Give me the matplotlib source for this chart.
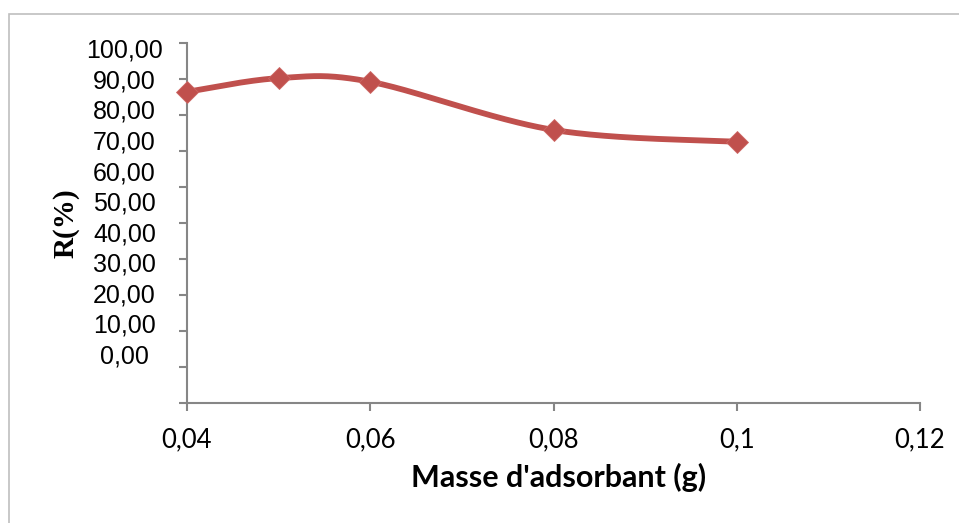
import numpy as np
import matplotlib
matplotlib.use('Agg')
import matplotlib.pyplot as plt
from matplotlib.patches import Rectangle

# adsorbent mass (g) vs removal yield R (%)
masse = [0.04, 0.05, 0.06, 0.08, 0.10]
rendement = [86.5, 90.3, 89.3, 75.9, 72.6]

xticks = [0.04, 0.06, 0.08, 0.10, 0.12]
xtick_labels = ['0,04', '0,06', '0,08', '0,1', '0,12']
ytick_values = [100, 90, 80, 70, 60, 50, 40, 30, 20, 10, 0]
ytick_labels = ['100,00', '90,00', '80,00', '70,00', '60,00', '50,00',
                '40,00', '30,00', '20,00', '10,00', '0,00']

RED = '#C0504D'
AXIS = '#868686'

W, H = 959, 523
fig = plt.figure(figsize=(W / 100, H / 100), dpi=100)

# frame around the chart area (only top and left edges fall inside the image)
fig.patches.append(Rectangle((9 / W, -1), 2, 2 - 14 / H, transform=fig.transFigure,
                             fill=False, edgecolor='#BFBFBF', linewidth=1.2))

x0, x1, y0, y1 = 187, 920, 43.3, 402.7
ax = fig.add_axes([x0 / W, 1 - y1 / H, (x1 - x0) / W, (y1 - y0) / H])
ax.set_xlim(0.04, 0.12)
ax.set_ylim(0, 100)


def smooth(xs, ys, n=60):
    # Bezier smoothing (Catmull-Rom style) done in pixel space
    px = (np.array(xs) - 0.04) / 0.08 * (x1 - x0)
    py = np.array(ys) / 100 * (y1 - y0)
    pts = np.column_stack([px, py])
    out = []
    for i in range(len(pts) - 1):
        p0 = pts[max(i - 1, 0)]
        p1 = pts[i]
        p2 = pts[i + 1]
        p3 = pts[min(i + 2, len(pts) - 1)]
        c1 = p1 + (p2 - p0) / 6
        c2 = p2 - (p3 - p1) / 6
        t = np.linspace(0, 1, n)[:, None]
        seg = ((1 - t) ** 3 * p1 + 3 * (1 - t) ** 2 * t * c1
               + 3 * (1 - t) * t ** 2 * c2 + t ** 3 * p2)
        out.append(seg)
    out = np.vstack(out)
    return out[:, 0] / (x1 - x0) * 0.08 + 0.04, out[:, 1] / (y1 - y0) * 100


sx, sy = smooth(masse, rendement)
ax.plot(sx, sy, color=RED, linewidth=4.2, solid_capstyle='round', clip_on=False, zorder=3)
ax.plot(masse, rendement, linestyle='none', marker='D', markersize=10.7,
        color=RED, markeredgecolor='#CD6764', markeredgewidth=0.6, clip_on=False, zorder=4)

for side in ['top', 'right']:
    ax.spines[side].set_visible(False)
for side in ['left', 'bottom']:
    ax.spines[side].set_color(AXIS)
    ax.spines[side].set_linewidth(1.5)

ax.set_xticks(xticks)
ax.set_xticklabels(xtick_labels, family='Lato', fontsize=18.5)
ax.tick_params(axis='x', direction='out', length=6, width=1.5, color=AXIS, pad=12)

# tick marks every 10 units, value labels drawn on a tighter spacing
ax.set_yticks(np.arange(0, 101, 10), minor=True)
ax.tick_params(axis='y', which='minor', direction='out', length=6, width=1.5, color=AXIS)
ax.set_yticks([v * 0.85 + 13.6 for v in ytick_values])
ax.set_yticklabels(ytick_labels, family='Liberation Sans', fontsize=18)
ax.tick_params(axis='y', which='major', length=0, pad=45)
for lab in ax.get_yticklabels():
    lab.set_ha('center')

ax.set_xlabel("Masse d'adsorbant (g)", family='Lato', fontweight='bold', fontsize=22)
ax.xaxis.set_label_coords((559 - x0) / (x1 - x0), -(477 - y1) / (y1 - y0))
ax.xaxis.label.set_va('center')
ax.set_ylabel('R(%)', family='Liberation Serif', fontweight='bold', fontsize=21)
ax.yaxis.set_label_coords(-(x0 - 66) / (x1 - x0), 0.5)
ax.yaxis.label.set_va('center')

fig.savefig('out.png', dpi=100)
